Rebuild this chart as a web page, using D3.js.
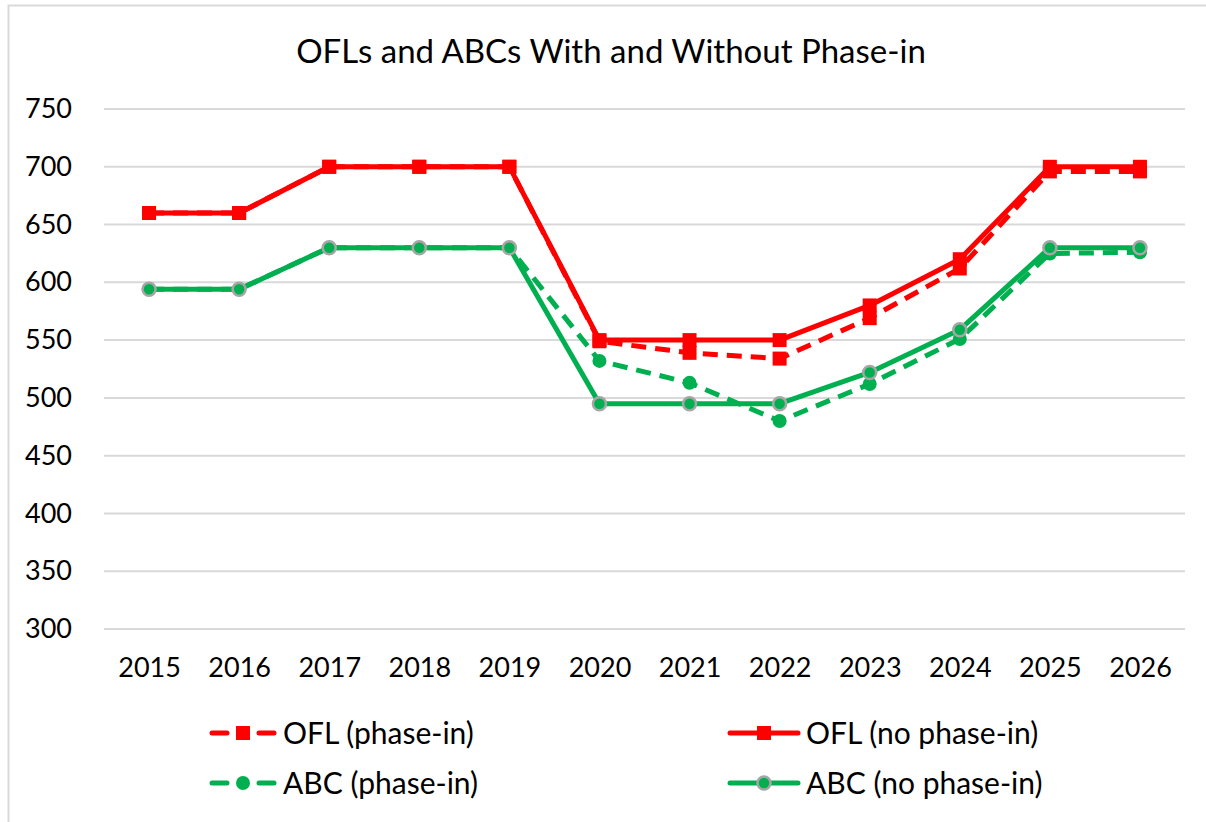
<!DOCTYPE html>
<html>
<head>
<meta charset="utf-8">
<script src="https://cdn.jsdelivr.net/npm/d3@7"></script>
<style>
  body { margin: 0; background: #fff; }
  svg { display: block; font-family: Lato, "Noto Sans", sans-serif; }
</style>
</head>
<body>
<svg id="chart" width="1206" height="822"></svg>
<script>
// chart data
const years = ['2015', '2016', '2017', '2018', '2019', '2020', '2021', '2022', '2023', '2024', '2025', '2026'];
const oflPhaseIn = [660, 660, 700, 700, 700, 549, 539, 534, 569, 612, 696, 696];
const oflNoPhaseIn = [660, 660, 700, 700, 700, 550, 550, 550, 580, 620, 700, 700];
const abcPhaseIn = [594, 594, 630, 630, 630, 532, 513, 480, 512, 551, 625, 626];
const abcNoPhaseIn = [594, 594, 630, 630, 630, 495, 495, 495, 522, 559, 630, 630];
const yTicks = [300, 350, 400, 450, 500, 550, 600, 650, 700, 750];
const title = 'OFLs and ABCs With and Without Phase-in';

const series = [
  { name: 'OFL (phase-in)', values: oflPhaseIn, color: '#ff0000', dashed: true, marker: 'square' },
  { name: 'OFL (no phase-in)', values: oflNoPhaseIn, color: '#ff0000', dashed: false, marker: 'square' },
  { name: 'ABC (phase-in)', values: abcPhaseIn, color: '#00b050', dashed: true, marker: 'circle' },
  { name: 'ABC (no phase-in)', values: abcNoPhaseIn, color: '#00b050', dashed: false, marker: 'circle', outline: '#a6a6a6' }
];

const svg = d3.select('#chart');

// outer chart border
svg.append('rect')
  .attr('x', 8.5).attr('y', 5.5)
  .attr('width', 1210).attr('height', 830)
  .attr('fill', '#fff')
  .attr('stroke', '#d9d9d9')
  .attr('stroke-width', 2);

svg.append('text')
  .attr('x', 611).attr('y', 63)
  .attr('text-anchor', 'middle')
  .style('font-size', '33px')
  .attr('fill', '#000')
  .text(title);

const x = d3.scalePoint().domain(years).range([104, 1185]).padding(0.5);
const y = d3.scaleLinear().domain([300, 750]).range([629, 109]);

// gridlines
svg.append('g')
  .selectAll('line')
  .data(yTicks).enter()
  .append('line')
  .attr('x1', 104).attr('x2', 1185)
  .attr('y1', d => y(d)).attr('y2', d => y(d))
  .attr('stroke', '#d9d9d9')
  .attr('stroke-width', 2);

// y axis labels
const yAxis = svg.append('g')
  .attr('transform', 'translate(72,0)')
  .call(d3.axisLeft(y).tickValues(yTicks).tickSize(0).tickPadding(0));
yAxis.select('.domain').remove();
yAxis.selectAll('text')
  .style('font-size', '27px')
  .style('font-family', 'Lato, "Noto Sans", sans-serif')
  .attr('fill', '#000');

// x axis labels
const xAxis = svg.append('g')
  .attr('transform', 'translate(0,658)')
  .call(d3.axisBottom(x).tickSize(0).tickPadding(0));
xAxis.select('.domain').remove();
xAxis.selectAll('text')
  .style('font-size', '27px')
  .style('font-family', 'Lato, "Noto Sans", sans-serif')
  .attr('fill', '#000');

const line = d3.line()
  .x((d, i) => x(years[i]))
  .y(d => y(d));

function drawMarker(g, s, cx, cy) {
  if (s.marker === 'square') {
    g.append('rect')
      .attr('x', cx - 7).attr('y', cy - 7)
      .attr('width', 14).attr('height', 14)
      .attr('fill', s.color);
  } else {
    g.append('circle')
      .attr('cx', cx).attr('cy', cy)
      .attr('r', s.outline ? 6.5 : 7)
      .attr('fill', s.color)
      .attr('stroke', s.outline || 'none')
      .attr('stroke-width', s.outline ? 2.5 : 0);
  }
}

series.forEach(s => {
  const g = svg.append('g');
  g.append('path')
    .datum(s.values)
    .attr('fill', 'none')
    .attr('stroke', s.color)
    .attr('stroke-width', 5)
    .attr('stroke-linejoin', 'round')
    .attr('stroke-dasharray', s.dashed ? '15,9' : null)
    .attr('d', line);
  s.values.forEach((v, i) => drawMarker(g, s, x(years[i]), y(v)));
});

// legend
const legendPos = [[212, 733], [730, 733], [212, 783], [730, 783]];
series.forEach((s, i) => {
  const [lx, ly] = legendPos[i];
  const g = svg.append('g');
  if (s.dashed) {
    g.append('line').attr('x1', lx).attr('x2', lx + 15).attr('y1', ly).attr('y2', ly)
      .attr('stroke', s.color).attr('stroke-width', 5).attr('stroke-linecap', 'round');
    g.append('line').attr('x1', lx + 47).attr('x2', lx + 62).attr('y1', ly).attr('y2', ly)
      .attr('stroke', s.color).attr('stroke-width', 5).attr('stroke-linecap', 'round');
  } else {
    g.append('line').attr('x1', lx).attr('x2', lx + 68).attr('y1', ly).attr('y2', ly)
      .attr('stroke', s.color).attr('stroke-width', 5).attr('stroke-linecap', 'round');
  }
  drawMarker(g, s, lx + (s.dashed ? 31 : 34), ly);
  g.append('text')
    .attr('x', lx + (s.dashed ? 71 : 76)).attr('y', ly)
    .attr('dy', '0.35em')
    .style('font-size', '30px')
    .attr('fill', '#000')
    .text(s.name);
});
</script>
</body>
</html>
